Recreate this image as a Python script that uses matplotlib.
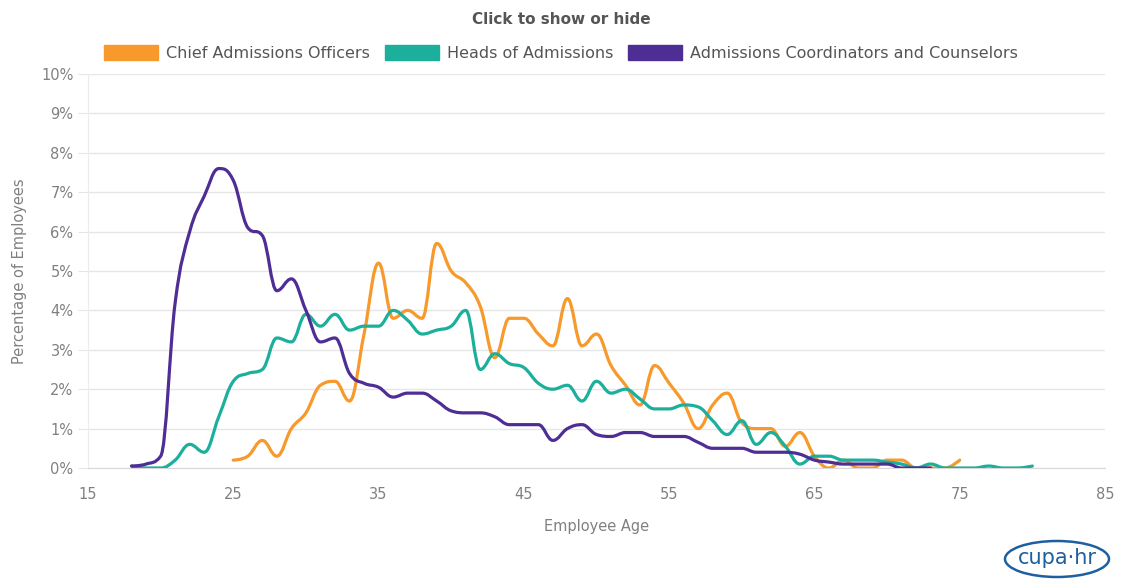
import numpy as np
import matplotlib
matplotlib.use("Agg")
import matplotlib.pyplot as plt
from matplotlib.path import Path
from matplotlib.patches import PathPatch, Patch, Ellipse

plt.rcParams['font.family'] = ['DejaVu Sans']

# Dados (percentual de empregados por idade)
idades_chief = list(range(25, 76))
chief = [0.2, 0.3, 0.7, 0.3, 1.0, 1.4, 2.1, 2.2, 1.7, 3.4,
         5.2, 3.8, 4.0, 3.8, 5.7, 5.0, 4.7, 4.1, 2.8, 3.8,
         3.8, 3.4, 3.1, 4.3, 3.1, 3.4, 2.6, 2.1, 1.6, 2.6,
         2.15, 1.65, 1.0, 1.6, 1.9, 1.15, 1.0, 1.0, 0.55, 0.9,
         0.3, 0.0, 0.2, 0.0, 0.0, 0.2, 0.2, 0.0, 0.0, 0.0,
         0.2]

idades_heads = list(range(18, 81))
heads = [0.05, 0.0, 0.0, 0.2, 0.6, 0.4, 1.3, 2.2, 2.4, 2.5,
         3.3, 3.2, 3.9, 3.6, 3.9, 3.5, 3.6, 3.6, 4.0, 3.75,
         3.4, 3.5, 3.6, 4.0, 2.5, 2.9, 2.65, 2.55, 2.15, 2.0,
         2.1, 1.7, 2.2, 1.9, 2.0, 1.75, 1.5, 1.5, 1.6, 1.55,
         1.2, 0.85, 1.2, 0.6, 0.9, 0.55, 0.1, 0.3, 0.3, 0.2,
         0.2, 0.2, 0.15, 0.1, 0.0, 0.1, 0.0, 0.0, 0.0, 0.05,
         0.0, 0.0, 0.05]

idades_coord = list(range(18, 74))
coord = [0.05, 0.1, 0.3, 4.2, 6.0, 6.9, 7.6, 7.3, 6.1, 5.9,
         4.5, 4.8, 4.0, 3.2, 3.3, 2.4, 2.15, 2.05, 1.8, 1.9,
         1.9, 1.7, 1.45, 1.4, 1.4, 1.3, 1.1, 1.1, 1.1, 0.7,
         1.0, 1.1, 0.85, 0.8, 0.9, 0.9, 0.8, 0.8, 0.8, 0.65,
         0.5, 0.5, 0.5, 0.4, 0.4, 0.4, 0.35, 0.2, 0.15, 0.1,
         0.1, 0.1, 0.1, 0.0, 0.0, 0.0]

nomes = ['Chief Admissions Officers', 'Heads of Admissions',
         'Admissions Coordinators and Counselors']
cores = ['#F7992B', '#1BAF9C', '#4E2E95']


# Curva suave no estilo "spline" (controles de Bezier como no Highcharts)
def caminho_spline(xs, ys):
    n = len(xs)
    esq = [(xs[i], ys[i]) for i in range(n)]
    dir_ = [(xs[i], ys[i]) for i in range(n)]
    s, d = 1.5, 2.5
    for i in range(1, n - 1):
        x, y = xs[i], ys[i]
        lx, ly = xs[i - 1], ys[i - 1]
        nx, ny = xs[i + 1], ys[i + 1]
        lcx, lcy = (s * x + lx) / d, (s * y + ly) / d
        rcx, rcy = (s * x + nx) / d, (s * y + ny) / d
        corr = ((rcy - lcy) * (rcx - x)) / (rcx - lcx) + y - rcy
        lcy += corr
        rcy += corr
        if lcy > ly and lcy > y:
            lcy = max(ly, y)
            rcy = 2 * y - lcy
        elif lcy < ly and lcy < y:
            lcy = min(ly, y)
            rcy = 2 * y - lcy
        if rcy > ny and rcy > y:
            rcy = max(ny, y)
            lcy = 2 * y - rcy
        elif rcy < ny and rcy < y:
            rcy = min(ny, y)
            lcy = 2 * y - rcy
        esq[i] = (lcx, lcy)
        dir_[i] = (rcx, rcy)
    verts = [(xs[0], ys[0])]
    codes = [Path.MOVETO]
    for i in range(1, n):
        verts += [dir_[i - 1], esq[i], (xs[i], ys[i])]
        codes += [Path.CURVE4] * 3
    return Path(verts, codes)


fig = plt.figure(figsize=(11.22, 5.81), dpi=100)
ax = fig.add_axes([88 / 1122, 1 - 468 / 581, (1105 - 88) / 1122, (468 - 74) / 581])

for xs, ys, cor in [(idades_chief, chief, cores[0]),
                    (idades_heads, heads, cores[1]),
                    (idades_coord, coord, cores[2])]:
    ax.add_patch(PathPatch(caminho_spline(xs, ys), fill=False, edgecolor=cor,
                           lw=2.3, capstyle='round', joinstyle='round', zorder=3))

ax.set_xlim(15, 85)
ax.set_ylim(0, 10)
ax.set_xticks(range(15, 86, 10))
ax.set_yticks(range(0, 11))
ax.set_yticklabels([f'{v}%' for v in range(0, 11)])
ax.grid(axis='y', color='#e6e6e6', lw=1)
ax.set_axisbelow(True)
for lado in ['top', 'right']:
    ax.spines[lado].set_visible(False)
ax.spines['left'].set_color('#ececec')
ax.spines['bottom'].set_color('#d8d8d8')
ax.tick_params(axis='y', length=7, color='#e6e6e6', labelsize=10.5, labelcolor='#808080', pad=3.5)
ax.tick_params(axis='x', length=0, labelsize=10.5, labelcolor='#808080', pad=14)
ax.set_xlabel('Employee Age', fontsize=10.5, color='#808080', labelpad=12)
ax.set_ylabel('Percentage of Employees', fontsize=10.5, color='#808080', labelpad=10)

fig.text(0.5, 1 - 19 / 581, 'Click to show or hide', ha='center', va='center',
         fontsize=11, fontweight='bold', color='#555555')

alcas = [Patch(facecolor=c, edgecolor=c) for c in cores]
fig.legend(alcas, nomes, loc='center', bbox_to_anchor=(561 / 1122, 1 - 53 / 581),
           ncol=3, frameon=False, fontsize=11.5, labelcolor='#555555',
           handlelength=3.4, handleheight=1.1, handletextpad=0.5, columnspacing=0.9)

# logotipo
fig.patches.append(Ellipse((1057 / 1122, 1 - 559 / 581), 104 / 1122, 36 / 581,
                           transform=fig.transFigure, fill=False, edgecolor='#1e5fa0', lw=1.8))
fig.text(1057 / 1122, 1 - 558 / 581, 'cupa·hr', ha='center', va='center',
         fontsize=15, color='#1e5fa0')

fig.savefig('out.png', dpi=100)
